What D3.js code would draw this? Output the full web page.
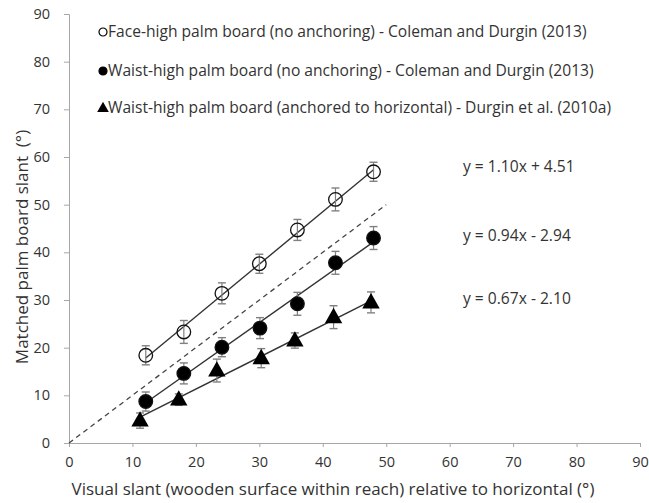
<!DOCTYPE html>
<html>
<head>
<meta charset="utf-8">
<script src="https://cdn.jsdelivr.net/npm/d3@7"></script>
<style>
    body { margin: 0; background: #fff; }
    text { font-family: "Open Sans", sans-serif; fill: #333; }
    .axis path, .axis line { stroke: #a6a6a6; }
    .axis text { font-size: 14.5px; fill: #333; font-family: "Open Sans", sans-serif; }
</style>
</head>
<body>
<div id="chart"></div>
<script>
// ---- size
const w = 649;
const h = 503;

// ---- data
const faceX = [12.1, 18.1, 24.1, 30.0, 36.0, 42.0, 48.0];
const faceY = [18.4, 23.3, 31.4, 37.6, 44.7, 51.1, 56.9];
const faceErr = [2.0, 2.4, 2.2, 2.0, 2.2, 2.4, 2.0];

const waistX = [12.1, 18.1, 24.1, 30.1, 36.0, 42.0, 48.0];
const waistY = [8.7, 14.6, 20.1, 24.1, 29.2, 37.8, 43.0];
const waistErr = [2.0, 2.2, 2.0, 2.2, 2.4, 2.4, 2.4];

const anchX = [11.2, 17.3, 23.3, 30.3, 35.6, 41.7, 47.6];
const anchY = [4.7, 9.1, 15.2, 17.8, 21.5, 26.4, 29.5];
const anchErr = [1.6, 1.2, 2.4, 2.0, 1.6, 2.4, 2.2];

const slopes = [1.10, 0.94, 0.67];
const intercepts = [4.51, -2.94, -2.10];
const eqLabels = ["y = 1.10x + 4.51", "y = 0.94x - 2.94", "y = 0.67x - 2.10"];
const eqLabelY = [58.1, 43.6, 30.4];

const seriesNames = [
    "Face-high palm board (no anchoring) - Coleman and Durgin (2013)",
    "Waist-high palm board (no anchoring) - Coleman and Durgin (2013)",
    "Waist-high palm board (anchored to horizontal) - Durgin et al. (2010a)",
];
const identityX = [0, 50];
const ticks = [0, 10, 20, 30, 40, 50, 60, 70, 80, 90];

// ---- padding
const pLeft = 69;
const pRight = 9;
const pTop = 14;
const pBottom = 60;

const series = [
    { name: seriesNames[0], x: faceX, y: faceY, err: faceErr, shape: "open" },
    { name: seriesNames[1], x: waistX, y: waistY, err: waistErr, shape: "dot" },
    { name: seriesNames[2], x: anchX, y: anchY, err: anchErr, shape: "tri" },
];

const xScale = d3.scaleLinear().domain([0, 90]).range([pLeft, w - pRight]);
const yScale = d3.scaleLinear().domain([0, 90]).range([h - pBottom, pTop]);

const svg = d3.select("#chart").append("svg").attr("width", w).attr("height", h);

// AXES
const xAxis = d3.axisBottom(xScale).tickValues(ticks).tickSize(4).tickSizeOuter(4).tickPadding(8);
const yAxis = d3.axisLeft(yScale).tickValues(ticks).tickSize(5).tickSizeOuter(5).tickPadding(14);

svg.append("g")
    .attr("class", "axis")
    .attr("transform", `translate(0, ${h - pBottom})`)
    .call(xAxis)
    .call((g) => g.selectAll(".tick text").attr("dy", "0.8em"));

svg.append("g")
    .attr("class", "axis")
    .attr("transform", `translate(${pLeft}, 0)`)
    .call(yAxis);

// LABELS
svg.append("text")
    .attr("x", 333)
    .attr("y", 495)
    .attr("text-anchor", "middle")
    .style("font-size", "17px")
    .text("Visual slant (wooden surface within reach) relative to horizontal (°)");

svg.append("text")
    .attr("transform", "translate(28, 247) rotate(-90)")
    .attr("text-anchor", "middle")
    .style("font-size", "17px")
    .style("white-space", "pre")
    .text("Matched palm board slant  (°)");

// IDENTITY LINE
svg.append("line")
    .attr("x1", xScale(identityX[0]))
    .attr("y1", yScale(identityX[0]))
    .attr("x2", xScale(identityX[1]))
    .attr("y2", yScale(identityX[1]))
    .attr("stroke", "#444")
    .attr("stroke-width", 1.3)
    .attr("stroke-dasharray", "5,4");

// TREND LINES
series.forEach((s, i) => {
    const x0 = d3.min(s.x);
    const x1 = d3.max(s.x);
    svg.append("line")
        .attr("x1", xScale(x0))
        .attr("y1", yScale(slopes[i] * x0 + intercepts[i]))
        .attr("x2", xScale(x1))
        .attr("y2", yScale(slopes[i] * x1 + intercepts[i]))
        .attr("stroke", "#333")
        .attr("stroke-width", 1.4);
});

// markers
const triPath = (size) => {
    const a = size;
    return `M0,${-a * 0.62}L${a * 0.58},${a * 0.4}L${-a * 0.58},${a * 0.4}Z`;
};

series.forEach((s) => {
    const pts = s.x.map((x, i) => ({ x: x, y: s.y[i], e: s.err[i] }));
    const g = svg.append("g").selectAll("g").data(pts).enter().append("g");

    // error bars
    g.append("line")
        .attr("x1", (d) => xScale(d.x))
        .attr("x2", (d) => xScale(d.x))
        .attr("y1", (d) => yScale(d.y - d.e))
        .attr("y2", (d) => yScale(d.y + d.e))
        .attr("stroke", "#808080")
        .attr("stroke-width", 1.2);
    [-1, 1].forEach((k) => {
        g.append("line")
            .attr("x1", (d) => xScale(d.x) - 4)
            .attr("x2", (d) => xScale(d.x) + 4)
            .attr("y1", (d) => yScale(d.y + k * d.e))
            .attr("y2", (d) => yScale(d.y + k * d.e))
            .attr("stroke", "#808080")
            .attr("stroke-width", 1.4);
    });

    if (s.shape === "tri") {
        g.append("path")
            .attr("transform", (d) => `translate(${xScale(d.x)}, ${yScale(d.y)})`)
            .attr("d", triPath(15))
            .attr("fill", "#000");
    } else {
        g.append("circle")
            .attr("cx", (d) => xScale(d.x))
            .attr("cy", (d) => yScale(d.y))
            .attr("r", 6.8)
            .attr("fill", s.shape === "open" ? "none" : "#000")
            .attr("stroke", "#111")
            .attr("stroke-width", 1.3);
    }
});

// EQUATIONS
eqLabels.forEach((t, i) => {
    svg.append("text")
        .attr("x", 463)
        .attr("y", yScale(eqLabelY[i]))
        .attr("dy", "0.35em")
        .style("font-size", "15.6px")
        .text(t);
});

// LEGEND
const legendY = [32, 71, 108];
const legend = svg.append("g")
    .selectAll("g")
    .data(series)
    .enter()
    .append("g")
    .attr("transform", (d, i) => `translate(103, ${legendY[i]})`);

legend.each(function (d) {
    const g = d3.select(this);
    if (d.shape === "tri") {
        g.append("path").attr("d", triPath(10)).attr("fill", "#000");
    } else {
        g.append("circle")
            .attr("r", 4)
            .attr("fill", d.shape === "open" ? "#fff" : "#000")
            .attr("stroke", "#000")
            .attr("stroke-width", 1.2);
    }
});
legend.append("text")
    .attr("x", 5)
    .attr("dy", "0.35em")
    .style("font-size", "15.6px")
    .text((d) => d.name);
</script>
</body>
</html>
